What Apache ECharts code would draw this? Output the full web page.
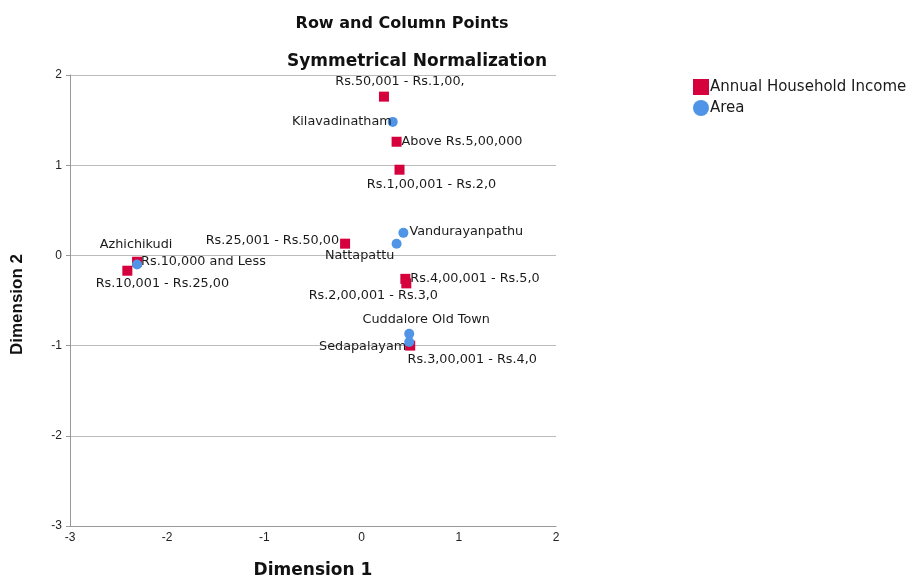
<!DOCTYPE html>
<html>
<head>
<meta charset="utf-8">
<script src="https://cdn.jsdelivr.net/npm/echarts@6/dist/echarts.min.js"></script>
<style>
  html, body { margin: 0; padding: 0; background: #fff; }
  #main { width: 910px; height: 585px; }
</style>
</head>
<body>
<div id="main"></div>
<script>
// row points (Annual Household Income)
var incomeNames = ['Rs.50,001 - Rs.1,00,', 'Above Rs.5,00,000', 'Rs.1,00,001 - Rs.2,0',
    'Rs.25,001 - Rs.50,00', 'Rs.10,000 and Less', 'Rs.10,001 - Rs.25,00',
    'Rs.4,00,001 - Rs.5,0', 'Rs.2,00,001 - Rs.3,0', 'Rs.3,00,001 - Rs.4,0'];
var incomeDim1 = [0.23, 0.36, 0.39, -0.17, -2.31, -2.41, 0.45, 0.46, 0.50];
var incomeDim2 = [1.76, 1.26, 0.95, 0.13, -0.07, -0.17, -0.26, -0.31, -1.00];

// column points (Area)
var areaNames = ['Kilavadinatham', 'Vandurayanpathu', 'Nattapattu', 'Azhichikudi',
    'Cuddalore Old Town', 'Sedapalayam'];
var areaDim1 = [0.32, 0.43, 0.36, -2.31, 0.49, 0.49];
var areaDim2 = [1.48, 0.25, 0.13, -0.10, -0.87, -0.96];

var xTicks = [-3, -2, -1, 0, 1, 2];
var yTicks = [-3, -2, -1, 0, 1, 2];

// where each label sits relative to its point
var labelPlace = {
    'Rs.50,001 - Rs.1,00,': { position: 'top', offset: [16, 0] },
    'Above Rs.5,00,000': { position: 'right', offset: [-3, 0] },
    'Rs.1,00,001 - Rs.2,0': { position: 'bottom', offset: [32, 0] },
    'Rs.25,001 - Rs.50,00': { position: 'left', offset: [2, -3] },
    'Rs.10,000 and Less': { position: 'right', offset: [-4, 0] },
    'Rs.10,001 - Rs.25,00': { position: 'bottom', offset: [35, -2] },
    'Rs.4,00,001 - Rs.5,0': { position: 'right', offset: [-3, 0] },
    'Rs.2,00,001 - Rs.3,0': { position: 'bottom', offset: [-33, -2] },
    'Rs.3,00,001 - Rs.4,0': { position: 'bottom', offset: [62, 0] },
    'Kilavadinatham': { position: 'left', offset: [7, 0] },
    'Vandurayanpathu': { position: 'right', offset: [-2, -1] },
    'Nattapattu': { position: 'bottom', offset: [-37, -2] },
    'Azhichikudi': { position: 'top', offset: [-1, -5] },
    'Cuddalore Old Town': { position: 'top', offset: [17, 0] },
    'Sedapalayam': { position: 'left', offset: [5, 5] }
};

function buildData(names, d1, d2) {
    return names.map(function (n, i) {
        var p = labelPlace[n];
        return {
            name: n,
            value: [d1[i], d2[i]],
            label: { show: true, formatter: '{b}', position: p.position, offset: p.offset }
        };
    });
}

var FONT = 'DejaVu Sans, sans-serif';
var ARIAL = 'Liberation Sans, Arial, sans-serif';
var labelText = { color: '#1a1a1a', fontSize: 12.8, fontFamily: FONT, distance: 3 };

var chart = echarts.init(document.getElementById('main'));
var option = {
    animation: false,
    backgroundColor: '#fff',
    title: [
        {
            text: 'Row and Column Points', left: 397, top: 11, textAlign: 'center',
            textStyle: { fontSize: 16, fontWeight: 'bold', color: '#111', fontFamily: FONT }
        },
        {
            text: 'Symmetrical Normalization', left: 412, top: 48, textAlign: 'center',
            textStyle: { fontSize: 17, fontWeight: 'bold', color: '#111', fontFamily: FONT }
        }
    ],
    legend: {
        orient: 'vertical',
        left: 688, top: 74,
        itemWidth: 16, itemHeight: 16, itemGap: 5,
        textStyle: { fontSize: 15, color: '#1a1a1a', fontFamily: FONT, padding: [0, 0, 0, -4] },
        data: [
            { name: 'Annual Household Income', icon: 'rect' },
            { name: 'Area', icon: 'circle' }
        ]
    },
    grid: { left: 70, right: 354, top: 75, bottom: 59 },
    xAxis: {
        type: 'value', min: -3, max: 2, interval: 1,
        name: 'Dimension 1', nameLocation: 'middle', nameGap: 36,
        nameTextStyle: { fontSize: 17, fontWeight: 'bold', color: '#111', fontFamily: FONT },
        axisLine: { onZero: false, lineStyle: { color: '#999' } },
        axisTick: { show: false },
        splitLine: { show: false },
        axisLabel: {
            color: '#222', fontSize: 12, margin: 6, fontFamily: ARIAL,
            formatter: function (v) { return xTicks.indexOf(v) >= 0 ? String(v) : ''; }
        }
    },
    yAxis: {
        type: 'value', min: -3, max: 2, interval: 1,
        name: 'Dimension 2', nameLocation: 'middle', nameGap: 44,
        nameTextStyle: { fontSize: 17, fontWeight: 'bold', color: '#111', fontFamily: ARIAL, padding: [0, 8, 0, 0] },
        axisLine: { show: true, onZero: false, lineStyle: { color: '#999' } },
        axisTick: { show: true, length: 4, lineStyle: { color: '#999' } },
        splitLine: { show: true, lineStyle: { color: '#bbb', width: 1 } },
        axisLabel: {
            color: '#222', fontSize: 12, margin: 8, fontFamily: ARIAL,
            formatter: function (v) { return yTicks.indexOf(v) >= 0 ? String(v) : ''; }
        }
    },
    series: [
        {
            name: 'Annual Household Income',
            type: 'scatter',
            symbol: 'rect',
            symbolSize: 10,
            itemStyle: { color: '#d5003c', opacity: 1 },
            label: labelText,
            z: 3,
            data: buildData(incomeNames, incomeDim1, incomeDim2)
        },
        {
            name: 'Area',
            type: 'scatter',
            symbol: 'circle',
            symbolSize: 10,
            itemStyle: { color: '#4f94e6', opacity: 1 },
            label: labelText,
            z: 4,
            data: buildData(areaNames, areaDim1, areaDim2)
        }
    ]
};
chart.setOption(option);
</script>
</body>
</html>
